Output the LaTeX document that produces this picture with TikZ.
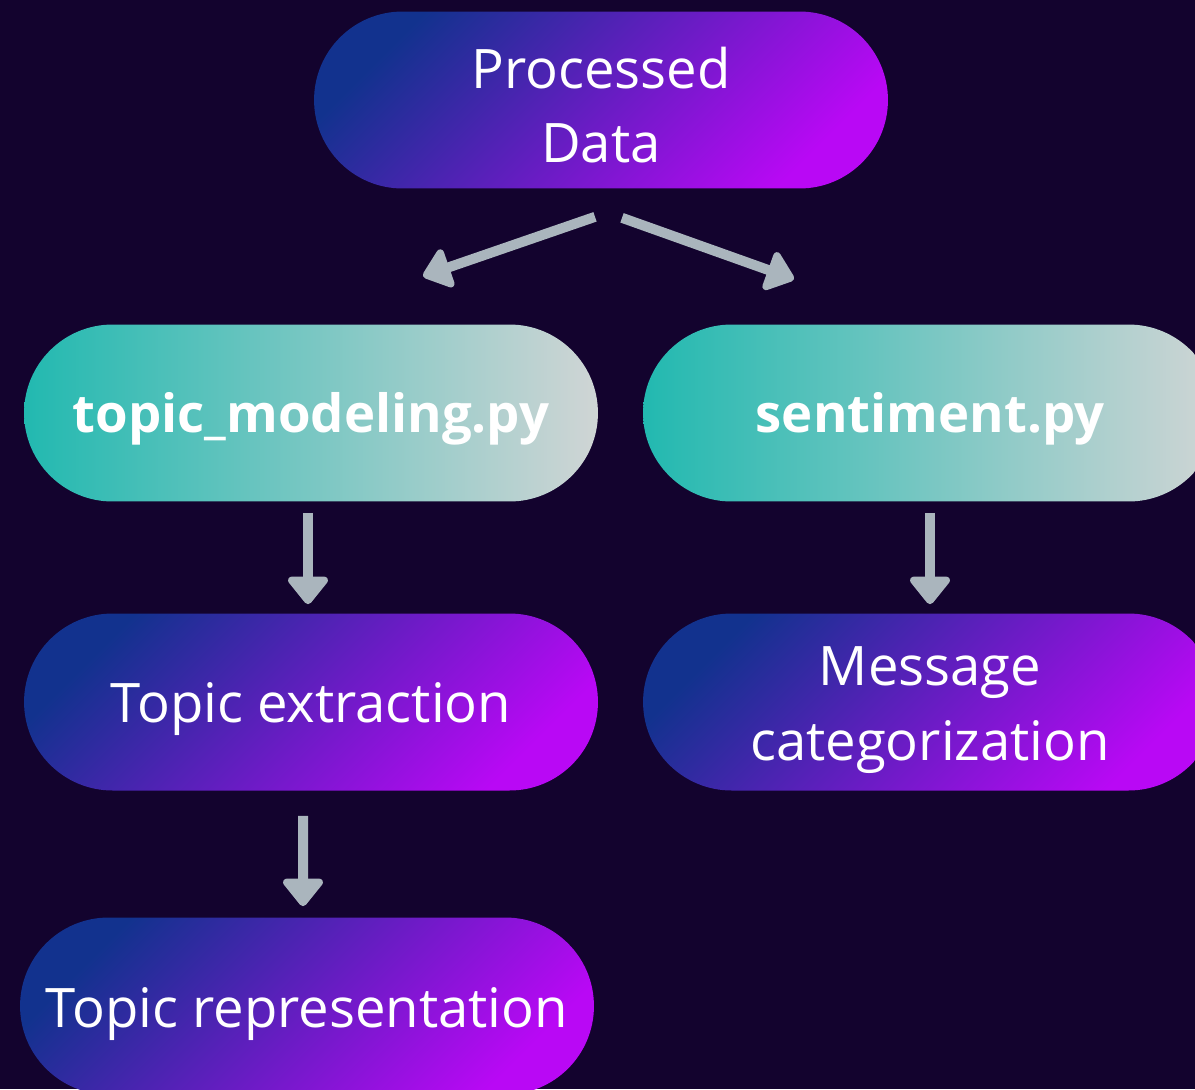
\documentclass[tikz,border=0pt]{standalone}
\usepackage{fontspec}
\setmainfont{Open Sans}
\usetikzlibrary{arrows.meta,calc}
\definecolor{bg}{RGB}{19,3,46}
\definecolor{pdark}{RGB}{18,50,142}
\definecolor{plight}{RGB}{185,8,245}
\definecolor{tealL}{RGB}{34,185,176}
\definecolor{tealR}{RGB}{208,213,213}
\definecolor{arrowgray}{RGB}{170,181,189}
\begin{document}
\begin{tikzpicture}[x=0.02cm,y=-0.02cm,
  pill/.style={rectangle, rounded corners=1.77cm, minimum width=11.48cm,
    minimum height=3.54cm, inner sep=0pt, text=white, align=center,
    text depth=0pt, font=\fontsize{31}{42.5}\selectfont},
  purplepill/.style={pill, top color=pdark, bottom color=plight, shading angle=45},
  tealpill/.style={pill, left color=tealL, right color=tealR,
    font=\fontsize{30}{36}\selectfont\bfseries},
  arr/.style={draw=arrowgray, line width=0.2cm,
    -{Triangle[round, width=0.92cm, length=0.6cm]}}
]
\path[use as bounding box] (0,0) rectangle (1195,1089);
\clip (0,0) rectangle (1195,1089);
\fill[bg] (0,0) rectangle (1195,1089);

% process boxes
\node[purplepill, text height=2.52cm] (pd) at (601,100) {Processed\\Data};
\node[tealpill, text height=0.76cm]   (tm) at (311,413) {topic\_modeling.py};
\node[tealpill, text height=0.76cm]   (sa) at (930,413) {sentiment.py};
\node[purplepill, text height=0.8cm]  (te) at (311,702) {Topic extraction};
\node[purplepill, text height=2.32cm] (mc) at (930,702) {Message\\categorization};
\node[purplepill, text height=0.84cm] (tr) at (307,1006) {Topic representation};

% split from the data box
\coordinate (d1s) at ($(pd.south)+(-6,28)$);
\coordinate (d1e) at ($(tm.north)+(112,-48)$);
\coordinate (d2s) at ($(pd.south)+(21,29)$);
\coordinate (d2e) at ($(sa.north)+(-136,-45)$);
\draw[arr] (d1s) -- (d1e);
\draw[arr] (d2s) -- (d2e);

% downward steps
\draw[arr, shorten <=0.22cm, shorten >=0.18cm] ([xshift=-0.06cm]tm.south) -- ([xshift=-0.06cm]te.north);
\draw[arr, shorten <=0.22cm, shorten >=0.18cm] (sa.south) -- (mc.north);
\draw[arr, shorten <=0.5cm, shorten >=0.22cm] ([xshift=-0.16cm]te.south) -- ([xshift=-0.08cm]tr.north);
\end{tikzpicture}
\end{document}
